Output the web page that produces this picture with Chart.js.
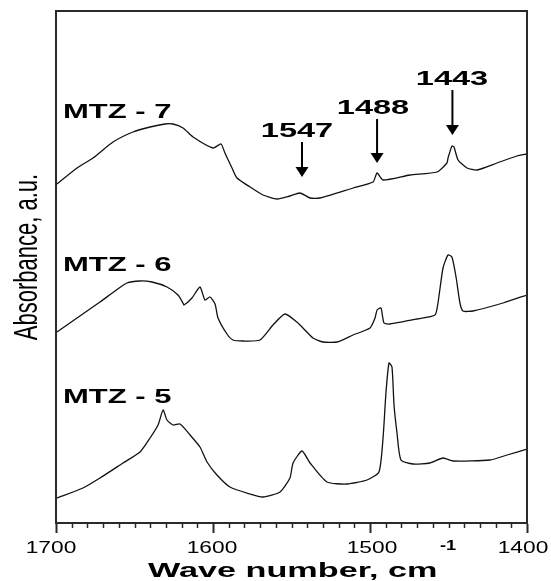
<!DOCTYPE html>
<html>
<head>
<meta charset="utf-8">
<script src="https://cdn.jsdelivr.net/npm/chart.js@4.4.0/dist/chart.umd.min.js"></script>
<style>
  html, body { margin: 0; padding: 0; background: #fff; }
  canvas { display: block; }
</style>
</head>
<body>
<canvas id="irChart" width="551" height="581"></canvas>
<script>
// wave numbers (cm-1) and absorbance (a.u.)
const mtz7Wave = [1699.4, 1686.6, 1676.4, 1663.7, 1651.0, 1640.1, 1630.6, 1625.5, 1619.1, 1612.7, 1600.0, 1594.9, 1592.4, 1587.9, 1584.7, 1576.4, 1568.2, 1559.2, 1551.0, 1544.6, 1538.2, 1531.8, 1510.8, 1498.1, 1495.5, 1491.7, 1474.5, 1457.3, 1451.0, 1450.3, 1447.8, 1446.5, 1443.9, 1438.2, 1431.8, 1419.1, 1406.4, 1400];
const mtz7Abs  = [3.39, 3.55, 3.65, 3.81, 3.91, 3.96, 3.99, 3.99, 3.95, 3.86, 3.75, 3.79, 3.70, 3.55, 3.45, 3.36, 3.28, 3.24, 3.27, 3.30, 3.25, 3.25, 3.35, 3.41, 3.50, 3.43, 3.48, 3.51, 3.60, 3.65, 3.77, 3.76, 3.63, 3.55, 3.53, 3.60, 3.67, 3.69];

const mtz6Wave = [1699.4, 1672.0, 1662.4, 1654.8, 1646.5, 1638.9, 1629.3, 1622.3, 1619.1, 1618.5, 1613.4, 1608.3, 1605.1, 1601.9, 1598.7, 1596.8, 1591.1, 1587.3, 1580.9, 1570.1, 1561.8, 1554.1, 1545.9, 1542.7, 1536.3, 1529.9, 1521.0, 1510.8, 1500.0, 1496.8, 1495.5, 1493.0, 1491.1, 1487.3, 1470.1, 1458.6, 1456.7, 1453.5, 1450.3, 1447.8, 1445.2, 1442.7, 1440.8, 1434.4, 1415.3, 1400];
const mtz6Abs  = [1.91, 2.21, 2.32, 2.40, 2.42, 2.41, 2.36, 2.28, 2.20, 2.18, 2.25, 2.36, 2.23, 2.26, 2.19, 2.05, 1.89, 1.83, 1.82, 1.83, 1.98, 2.09, 2.00, 1.95, 1.85, 1.81, 1.81, 1.88, 1.95, 2.05, 2.13, 2.15, 2.00, 1.99, 2.04, 2.08, 2.20, 2.55, 2.68, 2.66, 2.46, 2.20, 2.12, 2.12, 2.20, 2.28];

const mtz5Wave = [1699.4, 1682.8, 1672.0, 1657.3, 1646.5, 1640.1, 1635.0, 1631.8, 1629.3, 1625.5, 1621.0, 1614.6, 1608.3, 1603.8, 1597.5, 1589.2, 1576.4, 1568.2, 1557.3, 1551.0, 1549.0, 1543.3, 1538.2, 1527.4, 1514.6, 1501.9, 1494.3, 1491.7, 1489.8, 1487.9, 1486.0, 1484.7, 1482.8, 1480.3, 1472.6, 1461.8, 1453.5, 1447.1, 1423.6, 1412.7, 1400];
const mtz5Abs  = [0.25, 0.35, 0.45, 0.60, 0.71, 0.85, 0.98, 1.13, 1.03, 0.98, 0.99, 0.88, 0.76, 0.61, 0.48, 0.36, 0.29, 0.26, 0.31, 0.45, 0.60, 0.72, 0.60, 0.41, 0.39, 0.43, 0.51, 0.85, 1.31, 1.60, 1.56, 1.18, 0.90, 0.63, 0.59, 0.60, 0.65, 0.62, 0.63, 0.68, 0.74];

const seriesNames = ["MTZ - 7", "MTZ - 6", "MTZ - 5"];
const xTicks = [1700, 1600, 1500, 1400];
const peakLabels = ["1547", "1488", "1443"];
const peakWave = [1543.3, 1495.5, 1447.5];

const FONT = "'Liberation Sans', Arial, sans-serif";

function toPoints(xs, ys) {
    return xs.map(function (x, i) { return { x: x, y: ys[i] }; });
}

// the original picture is squeezed, so text comes out wide
function wideText(ctx, text, x, y, font, align, stretch) {
    ctx.save();
    ctx.translate(x, y);
    ctx.scale(stretch || 1.55, 1);
    ctx.font = font;
    ctx.textAlign = align || "left";
    ctx.textBaseline = "alphabetic";
    ctx.fillStyle = "#000";
    ctx.fillText(text, 0, 0);
    ctx.restore();
}

const decorations = {
    id: "decorations",
    afterDraw(chart) {
        const ctx = chart.ctx;
        const a = chart.chartArea;
        const xs = chart.scales.x;

        // frame
        ctx.save();
        ctx.strokeStyle = "#2a2a2a";
        ctx.lineWidth = 2;
        ctx.strokeRect(a.left, a.top, a.right - a.left, a.bottom - a.top);

        // minor ticks
        ctx.lineWidth = 1.5;
        ctx.beginPath();
        for (let w = 1410; w < 1700; w += 10) {
            if (w % 100 === 0) continue;
            const px = Math.round(xs.getPixelForValue(w)) + 0.5;
            ctx.moveTo(px, a.bottom);
            ctx.lineTo(px, a.bottom + 5);
        }
        ctx.stroke();
        ctx.restore();

        // tick labels
        const tickShift = [-5, -1, 2, -4];
        xTicks.forEach(function (t, i) {
            wideText(ctx, String(t), xs.getPixelForValue(t) + tickShift[i], 553, "16px " + FONT, "center", 1.42);
        });

        // axis titles
        wideText(ctx, "Wave number, cm", 148, 577, "bold 20px " + FONT, "left", 1.71);
        wideText(ctx, "-1", 440, 550, "bold 14px " + FONT, "left", 1.3);

        ctx.save();
        ctx.translate(37, 257);
        ctx.rotate(-Math.PI / 2);
        ctx.scale(1, 1.55);
        ctx.font = "22px " + FONT;
        ctx.textAlign = "center";
        ctx.textBaseline = "alphabetic";
        ctx.fillStyle = "#000";
        ctx.fillText("Absorbance, a.u.", 0, 0);
        ctx.restore();

        // series names
        const nameY = [118, 271, 403];
        seriesNames.forEach(function (n, i) {
            wideText(ctx, n, 63, nameY[i], "bold 20px " + FONT, "left");
        });

        // peak arrows
        const labelX = [297, 373, 452];
        const labelY = [137, 114, 85];
        const arrowTop = [142, 119, 90];
        const arrowTip = [177, 163, 135];
        peakLabels.forEach(function (lab, i) {
            const px = xs.getPixelForValue(peakWave[i]);
            wideText(ctx, lab, labelX[i], labelY[i], "bold 21px " + FONT, "center");
            ctx.save();
            ctx.strokeStyle = "#000";
            ctx.fillStyle = "#000";
            ctx.lineWidth = 2;
            ctx.beginPath();
            ctx.moveTo(px, arrowTop[i]);
            ctx.lineTo(px, arrowTip[i] - 8);
            ctx.stroke();
            ctx.beginPath();
            ctx.moveTo(px - 6.5, arrowTip[i] - 10);
            ctx.lineTo(px + 6.5, arrowTip[i] - 10);
            ctx.lineTo(px, arrowTip[i]);
            ctx.closePath();
            ctx.fill();
            ctx.restore();
        });
    }
};

function lineSet(label, xs, ys) {
    return {
        label: label,
        data: toPoints(xs, ys),
        showLine: true,
        borderColor: "#111",
        borderWidth: 1.3,
        pointRadius: 0,
        tension: 0.2,
        fill: false
    };
}

new Chart(document.getElementById("irChart").getContext("2d"), {
    type: "scatter",
    data: {
        datasets: [
            lineSet(seriesNames[0], mtz7Wave, mtz7Abs),
            lineSet(seriesNames[1], mtz6Wave, mtz6Abs),
            lineSet(seriesNames[2], mtz5Wave, mtz5Abs)
        ]
    },
    options: {
        responsive: false,
        animation: false,
        layout: { padding: { left: 56, right: 24, top: 11, bottom: 48 } },
        plugins: { legend: { display: false }, tooltip: { enabled: false } },
        scales: {
            x: {
                type: "linear",
                reverse: true,
                min: 1400,
                max: 1700,
                ticks: { stepSize: 100, display: false },
                grid: {
                    drawOnChartArea: false,
                    drawTicks: true,
                    tickLength: 10,
                    tickColor: "#2a2a2a",
                    tickWidth: 2
                },
                border: { display: true, color: "#2a2a2a", width: 2 }
            },
            y: { display: false, min: 0, max: 5.12 }
        }
    },
    plugins: [decorations]
});
</script>
</body>
</html>
